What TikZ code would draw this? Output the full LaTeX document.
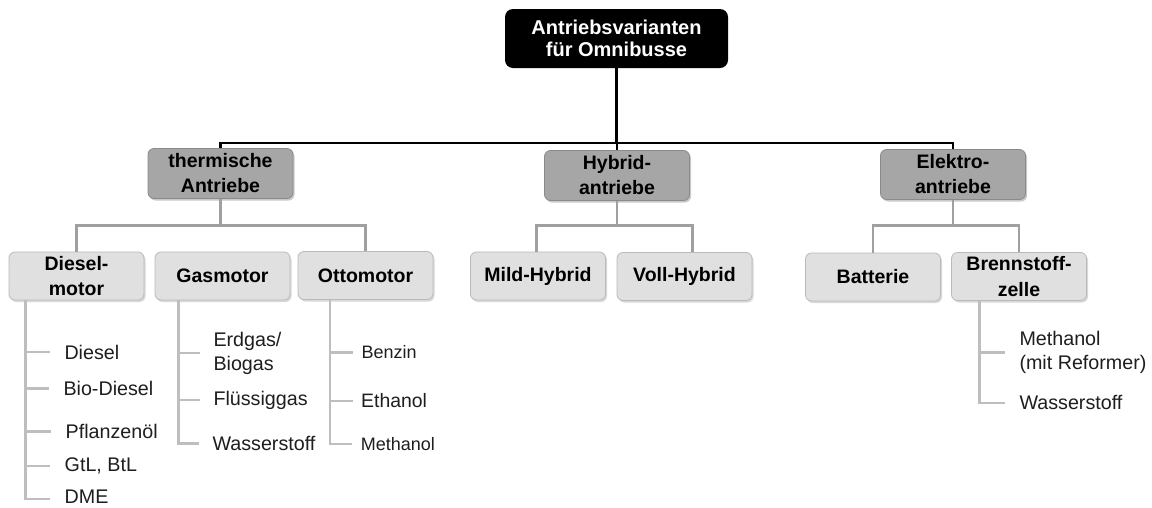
\documentclass[tikz,border=0pt]{standalone}
\usepackage{fontspec}
\setmainfont{Liberation Sans}
\usetikzlibrary{shadows}
\definecolor{catfill}{HTML}{A6A6A6}
\definecolor{catline}{HTML}{8A8A8A}
\definecolor{subfill}{HTML}{E0E0E0}
\definecolor{subline}{HTML}{BABABA}
\definecolor{midline}{HTML}{A0A0A0}
\definecolor{leafline}{HTML}{BEBEBE}
\definecolor{leaftext}{HTML}{1E1E1E}
\begin{document}
\begin{tikzpicture}[x=1pt,y=-1pt,
  rootbox/.style={fill=black, text=white, rounded corners=8pt, align=center, inner sep=0pt,
    font=\bfseries\fontsize{20}{22}\selectfont, minimum width=223pt, minimum height=59pt},
  catbox/.style={fill=catfill, draw=catline, line width=0.8pt, rounded corners=6pt, align=center,
    inner sep=0pt, font=\bfseries\fontsize{19.5}{25}\selectfont, minimum width=145pt, minimum height=50pt,
    drop shadow={shadow xshift=1.5pt, shadow yshift=-2pt, fill=black!35, opacity=0.6}},
  subbox/.style={fill=subfill, draw=subline, line width=0.8pt, rounded corners=6pt, align=center,
    inner sep=0pt, font=\bfseries\fontsize{19.5}{25.5}\selectfont, minimum width=135pt, minimum height=48pt,
    drop shadow={shadow xshift=1.5pt, shadow yshift=-2pt, fill=black!25, opacity=0.6}},
  leaf/.style={anchor=west, inner sep=0pt, align=left, text=leaftext, font=\fontsize{19.7}{24}\selectfont},
  smallleaf/.style={leaf, font=\fontsize{18}{22}\selectfont},
  topline/.style={draw=black, line width=2.2pt},
  midconn/.style={draw=midline, line width=2.6pt},
  leafconn/.style={draw=leafline, line width=2.4pt}
]
\useasboundingbox (0,0) rectangle (1152,507);
\fill[white] (0,0) rectangle (1152,507);

% root and categories
\node[rootbox] (root) at (616.5,38.5) {Antriebsvarianten\\für Omnibusse};
\node[catbox] (therm) at (220.5,173.5) {thermische\\Antriebe};
\node[catbox] (hyb) at (617,175.5) {Hybrid-\\antriebe};
\node[catbox] (elek) at (953,174.5) {Elektro-\\antriebe};

% sub boxes
\node[subbox] (diesel) at (76.5,276) {Diesel-\\motor};
\node[subbox] (gas) at (222.5,276) {Gasmotor};
\node[subbox] (otto) at (365.5,275.5) {Ottomotor};
\node[subbox] (mild) at (538,276) {Mild-Hybrid};
\node[subbox] (voll) at (684.5,276.5) {Voll-Hybrid};
\node[subbox] (batt) at (873,277) {Batterie};
\node[subbox] (bzelle) at (1019,276.5) {Brennstoff-\\zelle};

% top connectors
\coordinate (bar1) at (0,143);
\draw[topline] (root.south) -- (root.south |- bar1);
\draw[topline] (therm.north) |- (elek.north |- bar1) -- (elek.north);
\draw[topline] (hyb.north) -- (hyb.north |- bar1);

% second level connectors
\coordinate (bar2) at (0,225.5);
\draw[midconn] (therm.south) -- (therm.south |- bar2);
\draw[midconn] (diesel.north) |- (otto.north |- bar2) -- (otto.north);
\draw[midconn] (hyb.south) -- (hyb.south |- bar2);
\draw[midconn] ([xshift=-1.3pt]mild.north) |- ([xshift=7.8pt]voll.north |- bar2) -- ([xshift=7.8pt]voll.north);
\draw[midconn] (elek.south) -- (elek.south |- bar2);
\draw[midconn] (batt.north) |- (bzelle.north |- bar2) -- (bzelle.north);

% leaves: Dieselmotor
\node[leaf] (d1) at (64.3,352) {Diesel};
\node[leaf] (d2) at (63.3,388.3) {Bio-Diesel};
\node[leaf] (d3) at (65.5,431.5) {Pflanzenöl};
\node[leaf] (d4) at (64.5,466) {GtL, BtL};
\node[leaf] (d5) at (64.5,497) {DME};
\coordinate (dtop) at (25.3,0);
\draw[leafconn] (dtop |- diesel.south) |- ([xshift=-14.5pt,yshift=-2pt]d5.west);
\foreach \n in {d1,d2,d3,d4}
  \draw[leafconn] (dtop |- \n.west) -- ([xshift=-14.5pt]\n.west);

% leaves: Gasmotor
\node[leaf] (g1) at (213.3,353) {Erdgas/\\Biogas};
\node[leaf] (g2) at (213.3,400) {Flüssiggas};
\node[leaf] (g3) at (212.3,443.5) {Wasserstoff};
\coordinate (gtop) at (178.3,0);
\draw[leafconn] (gtop |- gas.south) |- ([xshift=-13pt]g3.west);
\foreach \n in {g1,g2}
  \draw[leafconn] (gtop |- \n.west) -- ([xshift=-13pt]\n.west);

% leaves: Ottomotor
\node[smallleaf] (o1) at (361.5,352.5) {Benzin};
\node[leaf, font=\fontsize{19.4}{24}\selectfont] (o2) at (361,401) {Ethanol};
\node[smallleaf] (o3) at (360.7,444) {Methanol};
\coordinate (otop) at (330,0);
\draw[leafconn] (otop |- otto.south) |- ([xshift=-8.5pt]o3.west);
\foreach \n in {o1,o2}
  \draw[leafconn] (otop |- \n.west) -- ([xshift=-8.5pt]\n.west);

% leaves: Brennstoffzelle
\node[leaf] (b1) at (1019.3,352.5) {Methanol\\(mit Reformer)};
\node[leaf] (b2) at (1019.3,402.7) {Wasserstoff};
\coordinate (btop) at (979.3,0);
\draw[leafconn] (btop |- bzelle.south) |- ([xshift=-14pt]b2.west);
\draw[leafconn] (btop |- b1.west) -- ([xshift=-14pt]b1.west);
\end{tikzpicture}
\end{document}
